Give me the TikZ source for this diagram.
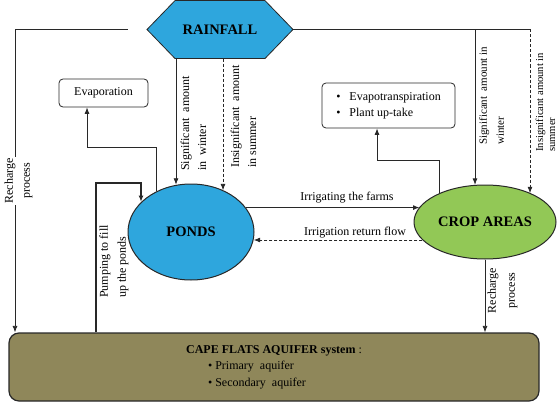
\documentclass[tikz,border=0pt]{standalone}
\usepackage{fontspec}
\setmainfont{Liberation Serif}
\usetikzlibrary{arrows.meta,shapes.geometric}
\definecolor{rainblue}{RGB}{46,166,221}
\definecolor{cropgreen}{RGB}{146,200,86}
\definecolor{aqbrown}{RGB}{143,135,90}
\definecolor{edgec}{RGB}{40,40,40}
\begin{document}
\begin{tikzpicture}[x=1pt,y=1pt,
  line/.style={draw=edgec, line width=0.8pt},
  arr/.style={line, -{Latex[length=6.5pt,width=5pt]}},
  darr/.style={arr, dash pattern=on 3pt off 2pt},
  lab/.style={inner sep=0pt, font=\fontsize{12}{14}\selectfont},
  rlab/.style={rotate=90, inner sep=0pt, align=left, anchor=west},
  bigtxt/.style={font=\fontsize{14.5}{16}\selectfont\bfseries},
  smallbox/.style={draw=edgec, line width=0.8pt, rounded corners=4pt, fill=white, inner sep=0pt},
  blob/.style={ellipse, draw=edgec, line width=1pt, inner sep=0pt, bigtxt}
]
\useasboundingbox (0,0) rectangle (559,-404);

% rainfall hexagon
\draw[draw=edgec, line width=0.8pt, fill=rainblue]
  (147,-29.5) -- (175,-0.6) -- (265,-0.6) -- (293,-29.5) -- (265,-58.5) -- (175,-58.5) -- cycle;
\node[bigtxt, minimum width=146pt, minimum height=58pt, inner sep=0pt] (rain) at (220,-29.5) {RAINFALL};

% main nodes
\node[blob, fill=rainblue, minimum width=126pt, minimum height=96pt] (ponds) at (191,-232) {PONDS};
\node[blob, fill=cropgreen, minimum width=142pt, minimum height=74pt] (crop) at (485,-222) {CROP AREAS};

\node[smallbox, minimum width=89pt, minimum height=28pt, font=\fontsize{12}{14}\selectfont] (evap) at (103.5,-93) {Evaporation};
\node[smallbox, minimum width=133pt, minimum height=45pt, align=left, font=\fontsize{12}{16}\selectfont] (evt) at (388.5,-105.5)
  {\textbullet\hspace{9pt}Evapotranspiration\\\textbullet\hspace{9pt}Plant up-take};

\node[draw=edgec, line width=1.2pt, fill=aqbrown, rounded corners=10pt, minimum width=530pt, minimum height=68pt,
      align=left, inner sep=0pt, font=\fontsize{12}{16.5}\selectfont] (aq) at (274,-367)
  {\textbf{CAPE FLATS AQUIFER system} :\\\hspace{22pt}\textbullet\ Primary\enspace aquifer\\\hspace{22pt}\textbullet\ Secondary\enspace aquifer};

% coordinates
\coordinate (L1) at (15,-29.5);
\coordinate (R1) at (530,-29.5);
\coordinate (R2) at (475,-29.5);
\coordinate (E2) at (87,-147);
\coordinate (T2) at (377,-160);
\coordinate (P1) at (96,-183);
\coordinate (P2) at (141,-183);

% left recharge
\draw[arr] ([xshift=-19pt]rain.west) -- (L1) -- (L1 |- aq.north);
\node[rotate=90, fill=white, inner sep=1pt, align=center, font=\fontsize{12}{17}\selectfont] (rl) at (18.5,-181) {Recharge\\process};

% rainfall to crop
\draw[line] (rain.east) -- (R1);
\draw[darr] (R1) -- (R1 |- crop.32);
\draw[arr] (R2) -- (R2 |- crop.105.5);

% rainfall to ponds
\draw[arr] ([xshift=-44pt]rain.south) -- ([xshift=-44pt]rain.south |- ponds.107.7);
\draw[darr] ([xshift=3pt]rain.south) -- ([xshift=3pt]rain.south |- ponds.52.2);

% ponds <-> crop
\draw[arr, line width=1.2pt] (ponds.24.9) -- (ponds.24.9 -| crop.167);
\draw[darr] (crop.196.2) -- (crop.196.2 -| ponds.-7.3);

% evaporation
\draw[arr] (ponds.130.1) |- (E2) -- (E2 |- evap.south);
% evapotranspiration
\draw[arr] (crop.148.5) |- (T2) -- (T2 |- evt.south);

% pumping
\draw[arr, line width=2pt] (P1 |- aq.north) -- (P1) -- (P2) -- (P2 |- ponds.149.7);

% recharge from crop
\draw[arr] (crop.south) -- (crop.south |- aq.north);
\node[rotate=90, inner sep=0pt, align=center, font=\fontsize{12}{19}\selectfont] (rr) at (502.5,-290.5) {Recharge\\process};

% labels
\node[lab] (irl) at (347,-198) {Irrigating the farms};
\node[lab] (rfl) at (355,-233) {Irrigation return flow};
\node[rlab, font=\fontsize{12}{17}\selectfont] (s1) at (193.5,-171) {Significant\enspace amount\\in\enspace winter};
\node[rlab, font=\fontsize{12}{17}\selectfont] (s2) at (243.5,-168) {Insignificant\enspace amount\\in summer};
\node[rlab, font=\fontsize{11}{17}\selectfont] (s3) at (491.5,-145) {Significant\enspace amount in\\winter};
\node[rlab, font=\fontsize{10.6}{12}\selectfont] (s4) at (545.5,-152) {Insignificant amount in\\summer};
\node[rlab, font=\fontsize{12}{18}\selectfont] (pl) at (114,-298) {Pumping to fill\\up the ponds};
\end{tikzpicture}
\end{document}
